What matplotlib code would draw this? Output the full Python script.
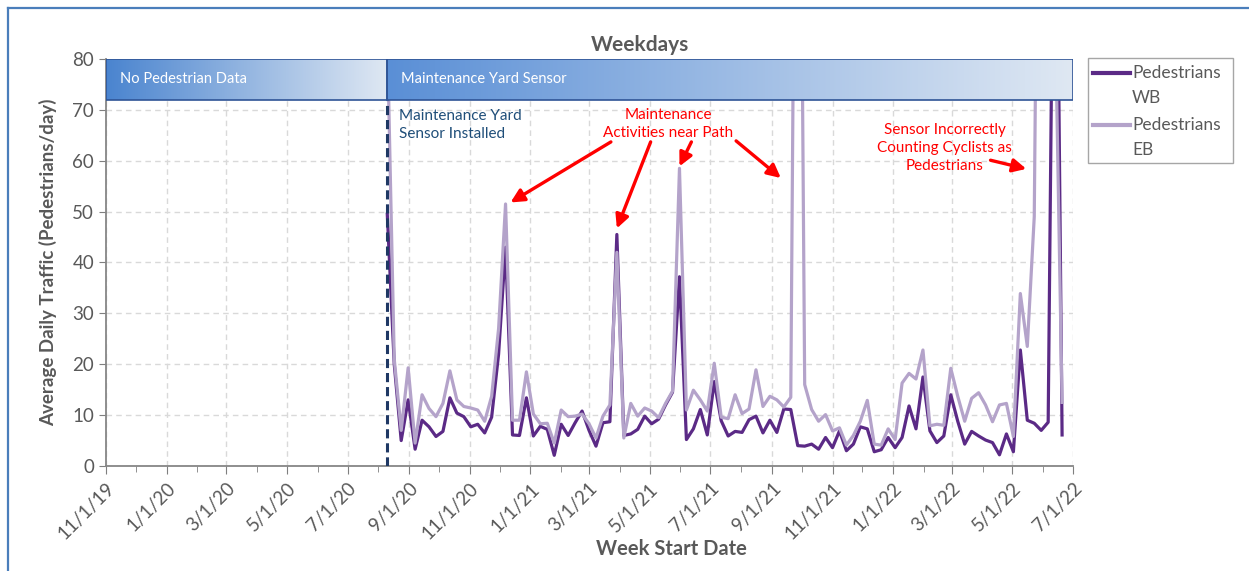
import numpy as np
import pandas as pd
import matplotlib
matplotlib.use("Agg")
import matplotlib.pyplot as plt
import matplotlib.dates as mdates
from matplotlib.colors import LinearSegmentedColormap
from matplotlib.patches import Rectangle
from matplotlib.lines import Line2D

plt.rcParams['font.family'] = ['Lato', 'DejaVu Sans']

# Weekly averages, weeks starting 8/10/20
week_start = pd.date_range('2020-08-10', periods=98, freq='7D')

peds_wb = [49.5, 20, 5, 13, 3.3, 9, 7.7, 5.8, 6.8, 13.4,
           10.4, 9.7, 7.7, 8.2, 6.5, 9.6, 22, 43, 6.1, 6.0,
           13.4, 5.9, 7.8, 7.2, 2.1, 8.2, 6, 8.5, 10.8, 7,
           3.9, 8.5, 8.7, 45.5, 6, 6.3, 7.2, 9.8, 8.3, 9.2,
           12, 14.5, 37.2, 5.2, 7.3, 11.1, 6.1, 16.6, 8.9, 5.9,
           6.8, 6.6, 9.1, 9.8, 6.5, 9, 6.6, 11.2, 11.1, 4.0,
           3.9, 4.3, 3.3, 5.6, 3.6, 6.9, 3.0, 4.3, 7.7, 7.3,
           2.8, 3.2, 5.6, 3.6, 5.6, 11.8, 7.3, 17.5, 6.9, 4.6,
           5.9, 14, 8.8, 4.3, 6.8, 5.9, 5.1, 4.6, 2.2, 6.3,
           2.8, 22.8, 9, 8.4, 7, 8.6, 150, 6.1]

peds_eb = [85, 21, 7, 19.3, 4.5, 14, 11.3, 9.7, 12.3, 18.7,
           13, 11.7, 11.4, 11, 8.8, 13.7, 27, 51.5, 9, 9,
           18.5, 10.2, 8.3, 8.4, 4.5, 11, 9.7, 9.8, 10.2, 8.3,
           5.5, 9.8, 12, 42, 5.5, 12.3, 9.8, 11.4, 10.8, 9.5,
           12.3, 14.7, 58.5, 11, 14.9, 13, 10.8, 20.2, 9.6, 9.3,
           14, 10.3, 11.2, 18.9, 11.7, 13.7, 13, 11.6, 13.5, 200,
           16, 11.1, 8.8, 10.1, 6.9, 7.5, 4.1, 6.0, 8.8, 12.9,
           4.3, 4.1, 7.3, 5.2, 16.3, 18.2, 17.1, 22.8, 7.9, 8.2,
           8.0, 19.2, 13.7, 8.8, 13.3, 14.4, 12, 8.7, 12, 12.3,
           5.8, 33.9, 23.5, 49, 200, 150, 90, 12.5]

series_names = ['Pedestrians\nWB', 'Pedestrians\nEB']

x_start = pd.Timestamp('2019-11-01')
x_end = pd.Timestamp('2022-07-01')
sensor_date = week_start[0]

gray = '#595959'
wb_color = '#5b2a86'
eb_color = '#b4a3ca'

W, H = 1249, 571
fig = plt.figure(figsize=(W / 100, H / 100), dpi=100)
ax = fig.add_axes([0.0849, 0.1839, 0.7742, 0.7128])

# EB sits on top of WB where they overlap
ax.plot(week_start, peds_wb, color=wb_color, lw=2.3, zorder=2)
ax.plot(week_start, peds_eb, color=eb_color, lw=2.3, zorder=3)

# dashed line when the sensor went in
ax.plot([sensor_date, sensor_date], [0, 72], color='#1f3864', lw=2.2,
        ls=(0, (3, 1.6)), zorder=4)


# gradient bands along the top
def band(x0, x1, c0, c1, text):
    cmap = LinearSegmentedColormap.from_list('b', [c0, c1])
    grad = np.linspace(0, 1, 256).reshape(1, -1)
    ax.imshow(grad, cmap=cmap, aspect='auto', zorder=5,
              extent=[mdates.date2num(x0), mdates.date2num(x1), 72, 80])
    ax.add_patch(Rectangle((mdates.date2num(x0), 72),
                           mdates.date2num(x1) - mdates.date2num(x0), 8,
                           fill=False, edgecolor='#2f5496', lw=1.2, zorder=6))
    ax.text(x0 + pd.Timedelta(days=14), 76, text, color='white', fontsize=10.5,
            va='center', ha='left', zorder=7)


band(x_start, sensor_date, '#4a84cf', '#dfe8f3', 'No Pedestrian Data')
band(sensor_date, x_end, '#5a8fd6', '#dfe8f3', 'Maintenance Yard Sensor')

ax.set_xlim(x_start, x_end)
ax.set_ylim(0, 80)
ax.set_yticks(range(0, 81, 10))

ax.xaxis.set_major_locator(mdates.MonthLocator(bymonth=[1, 3, 5, 7, 9, 11]))
ax.xaxis.set_minor_locator(mdates.MonthLocator())
ax.xaxis.set_major_formatter(plt.FuncFormatter(
    lambda v, p: (lambda d: f"{d.month}/{d.day}/{d:%y}")(mdates.num2date(v))))

for lab in ax.get_xticklabels():
    lab.set_rotation(45)
    lab.set_ha('right')
    lab.set_rotation_mode('anchor')

ax.tick_params(axis='both', colors='#7f7f7f', labelcolor=gray, labelsize=13.5)
ax.tick_params(axis='x', which='major', length=6, pad=4)
ax.tick_params(axis='x', which='minor', length=4, color='#7f7f7f')
ax.tick_params(axis='y', length=5)

ax.grid(True, which='major', color='#d9d9d9', ls=(0, (4, 3)), lw=1.0)
ax.set_axisbelow(True)
for s in ['top', 'right']:
    ax.spines[s].set_visible(False)
for s in ['left', 'bottom']:
    ax.spines[s].set_color('#868686')
    ax.spines[s].set_linewidth(1.3)

# annotations
ax.text(sensor_date + pd.Timedelta(days=12), 70.2, 'Maintenance Yard\nSensor Installed',
        color='#1f4e79', fontsize=11, va='top', ha='left', linespacing=1.35, zorder=7)

red = '#ff0000'
arrow = dict(arrowstyle='-|>,head_length=0.8,head_width=0.4', color=red, lw=2.4,
             shrinkA=0, shrinkB=0)
ax.text(pd.Timestamp('2021-05-20'), 67.2, 'Maintenance\nActivities near Path',
        color=red, fontsize=11, ha='center', va='center', linespacing=1.35, zorder=7)
tips = [(week_start[17] + pd.Timedelta(days=5), peds_eb[17] + 0.3),
        (week_start[33], peds_wb[33] + 1.2),
        (week_start[42], peds_eb[42] + 0.4),
        (week_start[58] - pd.Timedelta(days=10), 56.6)]
tails = [(pd.Timestamp('2021-03-23'), 63.7),
         (pd.Timestamp('2021-05-02'), 63.7),
         (pd.Timestamp('2021-06-12'), 63.7),
         (pd.Timestamp('2021-07-27'), 63.9)]
for tip, tail in zip(tips, tails):
    ax.annotate('', xy=tip, xytext=tail, arrowprops=arrow, zorder=7)

ax.text(pd.Timestamp('2022-02-22'), 62.5, 'Sensor Incorrectly\nCounting Cyclists as\nPedestrians',
        color=red, fontsize=11, ha='center', va='center', linespacing=1.35, zorder=7)
ax.annotate('', xy=(week_start[92] - pd.Timedelta(days=1), 58.4),
            xytext=(pd.Timestamp('2022-04-09'), 60.1), arrowprops=arrow, zorder=7)

fig.text(0.5124, 0.921, 'Weekdays', fontsize=15, fontweight='bold', color=gray,
         ha='center', va='center')
fig.text(0.0384, 0.5405, 'Average Daily Traffic (Pedestrians/day)', fontsize=13.5,
         fontweight='bold', color=gray, rotation=90, ha='center', va='center')
fig.text(0.5372, 0.0385, 'Week Start Date', fontsize=14.5, fontweight='bold',
         color=gray, ha='center', va='center')

# legend box outside the plot, handle level with the first text line
fig.add_artist(Rectangle((1088 / W, 1 - 163 / H), (1233 - 1088) / W, 105 / H,
                         transform=fig.transFigure, fill=False,
                         edgecolor='#a6a6a6', lw=1.0))
for k, (name, col) in enumerate(zip(series_names, [wb_color, eb_color])):
    y0 = 73 + k * 52
    fig.add_artist(Line2D([1093 / W, 1130 / W], [1 - y0 / H] * 2, color=col, lw=3))
    for j, part in enumerate(name.split('\n')):
        fig.text(1132 / W, 1 - (y0 + j * 25) / H, part, fontsize=12.5, color=gray,
                 ha='left', va='center')

# outer chart border
fig.add_artist(Line2D([8 / W, 8 / W], [0, 1 - 8 / H], color='#4a7ebb', lw=1.6))
fig.add_artist(Line2D([8 / W, 1], [1 - 8 / H, 1 - 8 / H], color='#4a7ebb', lw=1.6))

fig.savefig('out.png', dpi=100)
